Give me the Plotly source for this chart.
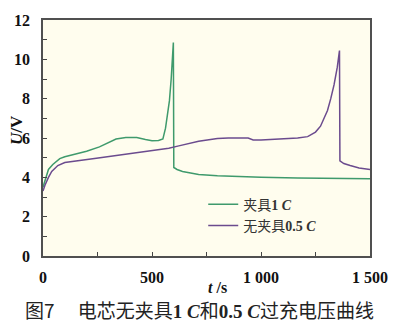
import plotly.graph_objects as go

# Overcharge voltage curves, time in s, voltage in V
t_clamp = [0, 10, 25, 45, 77, 100, 150, 200, 259, 300, 335, 380, 430, 470, 500, 530,
           550, 562, 572, 580, 588, 598, 600, 615, 640, 680, 714, 800, 900, 1000,
           1168, 1300, 1500]
u_clamp = [3.5, 3.9, 4.4, 4.65, 4.95, 5.05, 5.2, 5.33, 5.55, 5.75, 5.95, 6.02, 6.02,
           5.92, 5.86, 5.87, 5.95, 6.5, 7.2, 7.9, 9.0, 10.85, 4.5, 4.4, 4.3, 4.2,
           4.15, 4.08, 4.03, 4.0, 3.96, 3.95, 3.93]

t_free = [0, 9, 25, 40, 68, 100, 245, 456, 577, 623, 714, 800, 850, 941, 964, 1000,
          1077, 1168, 1214, 1250, 1273, 1290, 1305, 1320, 1335, 1350, 1360, 1362,
          1380, 1409, 1450, 1500]
u_free = [3.3, 3.6, 4.0, 4.3, 4.6, 4.75, 4.97, 5.3, 5.48, 5.6, 5.83, 5.97, 6.0, 6.0,
          5.9, 5.9, 5.95, 6.0, 6.07, 6.3, 6.6, 7.0, 7.4, 8.0, 8.7, 9.6, 10.45, 4.84,
          4.7, 4.6, 4.48, 4.4]

LATIN = "<span style='font-family:Liberation Serif'><b>{}</b></span>"
name_clamp = "夹具" + LATIN.format("1 <i>C</i>")
name_free = "无夹具" + LATIN.format("0.5 <i>C</i>")

x_ticks = [0, 500, 1000, 1500]
x_tick_text = ["0", "500", "1 000", "1 500"]
y_ticks = [0, 2, 4, 6, 8, 10, 12]

GREEN = "#3f9a6c"
PURPLE = "#6b4b8e"

fig = go.Figure()
fig.add_trace(go.Scatter(x=t_clamp, y=u_clamp, mode="lines", name=name_clamp,
                         line=dict(color=GREEN, width=1.5)))
fig.add_trace(go.Scatter(x=t_free, y=u_free, mode="lines", name=name_free,
                         line=dict(color=PURPLE, width=1.5)))

axis_common = dict(
    showgrid=False, zeroline=False, showline=True, linecolor="#505050", linewidth=1.5,
    mirror=True, ticks="inside", ticklen=4, tickwidth=1, tickcolor="#444444",
    tickfont=dict(family="Liberation Serif", size=16, color="#111111", weight="bold"),
)

fig.update_xaxes(range=[0, 1500], tickvals=x_ticks, ticktext=x_tick_text,
                 ticklabelstandoff=6,
                 minor=dict(dtick=250, ticks="inside", ticklen=4, tickcolor="#444444"),
                 **axis_common)
fig.update_yaxes(range=[0, 12], tickvals=y_ticks, ticklabelstandoff=8,
                 minor=dict(dtick=1, ticks="inside", ticklen=4, tickcolor="#444444"),
                 **axis_common)

fig.add_annotation(text="<i>U</i>/V", xref="paper", yref="y", x=-0.118, y=6.4,
                   textangle=-90, showarrow=False,
                   font=dict(family="Liberation Serif", size=17, color="#111111", weight="bold"))
fig.add_annotation(text="<i>t</i> /s", xref="x", yref="paper", x=800, y=-0.132,
                   xanchor="center", yanchor="middle", showarrow=False,
                   font=dict(family="Liberation Serif", size=16, color="#111111", weight="bold"))
caption = ("图7　 电芯无夹具" + LATIN.format("1 <i>C</i>") + "和"
           + LATIN.format("0.5 <i>C</i>") + "过充电压曲线")
fig.add_annotation(text=caption, xref="paper", yref="paper", x=0.479, y=-0.226,
                   xanchor="center", yanchor="middle", showarrow=False, borderpad=0,
                   font=dict(family="Noto Sans CJK SC", size=19, color="#222222"))

fig.update_layout(
    width=400, height=324,
    margin=dict(l=43, r=27, t=13, b=68),
    paper_bgcolor="white", plot_bgcolor="#fffdee",
    showlegend=True,
    legend=dict(x=0.49, y=0.285, xanchor="left", yanchor="top",
                bgcolor="rgba(0,0,0,0)", tracegroupgap=0,
                font=dict(family="Noto Sans CJK SC", size=14, color="#333333"),
                itemwidth=30),
)

fig.write_html("out.html")
